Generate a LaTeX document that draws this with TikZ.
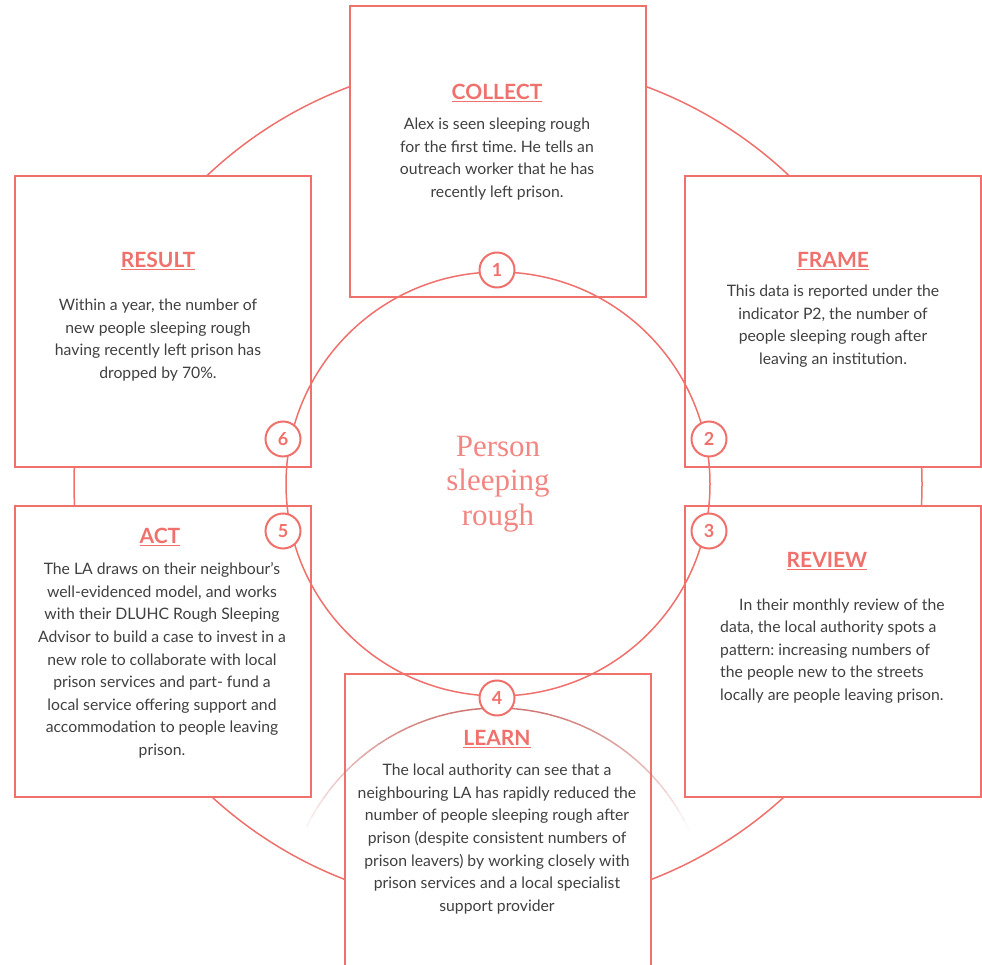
\documentclass[tikz,border=0pt]{standalone}
\usepackage{fontspec}
\setmainfont{Lato}
\newfontfamily\slabfont{Liberation Serif}
\definecolor{salmon}{HTML}{F0716C}
\definecolor{bodygray}{HTML}{404040}

\begin{document}
\frenchspacing
\begin{tikzpicture}[x=1pt,y=1pt,
  ring/.style={draw=salmon,line width=1.5pt},
  card/.style={draw=salmon,line width=2pt,fill=white,minimum width=296pt,minimum height=291pt,inner sep=0pt},
  badge/.style={circle,draw=salmon,line width=2pt,fill=white,minimum size=35pt,inner sep=0pt,text=salmon,font=\fontsize{18}{18}\selectfont\bfseries},
  title/.style={text=salmon,font=\fontsize{21}{21}\selectfont\bfseries},
  blurb/.style={text=bodygray,align=center,font=\fontsize{15.75}{22.6}\selectfont}]
  \useasboundingbox (0,0) rectangle (982,964);
  \draw[ring] (498,480) circle (424pt);
  \node[card] (collect) at (497.5,812.5) {};
  \node[card] (result) at (163,642.5) {};
  \node[card] (frame) at (833,642.5) {};
  \node[card] (act) at (163,312.5) {};
  \node[card] (review) at (833,312.5) {};
  \node[card,minimum width=306pt,minimum height=300pt] (learn) at (498,140) {};
  \draw[ring] (498,480) circle (212pt);
  \foreach \a in {25,28,...,152} {
    \pgfmathsetmacro\fade{sin((\a-23)/132*180)}
    \pgfmathsetmacro\xa{497+212*cos(\a)}
    \pgfmathsetmacro\ya{44+212*sin(\a)}
    \pgfmathsetmacro\xb{497+212*cos(\a+3)}
    \pgfmathsetmacro\yb{44+212*sin(\a+3)}
    \draw[ring,draw=salmon!70!gray,draw opacity=\fade] (\xa,\ya) -- (\xb,\yb);
  }
  \node[badge] (n1) at (497,694) {1};
  \node[badge] (n2) at (709,525) {2};
  \node[badge] (n3) at (709,433) {3};
  \node[badge] (n4) at (497,266) {4};
  \node[badge] (n5) at (283,433) {5};
  \node[badge] (n6) at (283,525) {6};
  \node[text=salmon!85,font=\slabfont\fontsize{31}{34.5}\selectfont,align=center] (hub) at (498,480) {Person\\sleeping\\rough};
  \node[title] (collect-t) at (497,871) {\underline{COLLECT}};
  \node[blurb] (collect-b) at (497,805) {Alex is seen sleeping rough\\for the first time. He tells an\\outreach worker that he has\\recently left prison.};
  \node[title] (frame-t) at (833,703) {\underline{FRAME}};
  \node[blurb] (frame-b) at (833,638) {This data is reported under the\\indicator P2, the number of\\people sleeping rough after\\leaving an institution.};
  \node[title] (review-t) at (827,403) {\underline{REVIEW}};
  \node[blurb,align=left,anchor=west,inner sep=0pt] (review-b) at (720,313) {\hspace*{19pt}In their monthly review of the\\data, the local authority spots a\\pattern: increasing numbers of\\the people new to the streets\\locally are people leaving prison.};
  \node[title] (learn-t) at (497,225) {\underline{LEARN}};
  \node[blurb] (learn-b) at (497,125) {The local authority can see that a\\neighbouring LA has rapidly reduced the\\number of people sleeping rough after\\prison (despite consistent numbers of\\prison leavers) by working closely with\\prison services and a local specialist\\support provider};
  \node[title] (act-t) at (160,427) {\underline{ACT}};
  \node[blurb] (act-b) at (162,303.5) {The LA draws on their neighbour's\\well-evidenced model, and works\\with their DLUHC Rough Sleeping\\Advisor to build a case to invest in a\\new role to collaborate with local\\prison services and part- fund a\\local service offering support and\\accommodation to people leaving\\prison.};
  \node[title] (result-t) at (158,703) {\underline{RESULT}};
  \node[blurb] (result-b) at (158,624) {Within a year, the number of\\new people sleeping rough\\having recently left prison has\\dropped by 70\%.};
\end{tikzpicture}
\end{document}
